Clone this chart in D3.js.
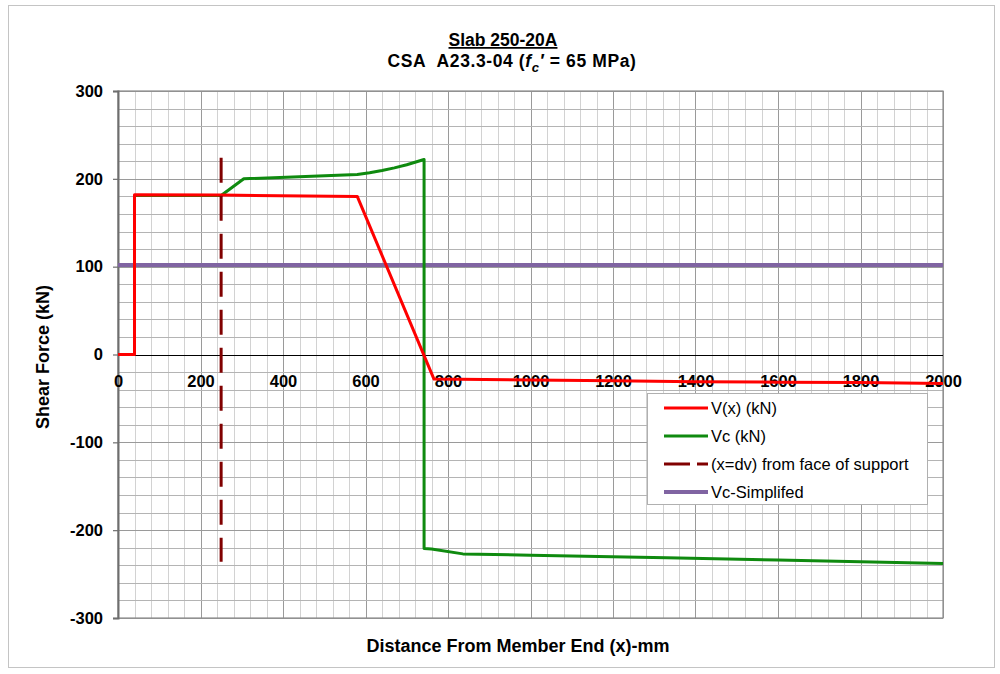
<!DOCTYPE html>
<html>
<head>
<meta charset="utf-8">
<script src="https://cdn.jsdelivr.net/npm/d3@7"></script>
<style>
  html, body { margin: 0; padding: 0; background: #fff; }
  svg { display: block; font-family: "Liberation Sans", Arial, sans-serif; }
</style>
</head>
<body>
<svg id="chart" width="1000" height="674"></svg>
<script>
// Shear force along the slab: applied V(x), concrete resistance Vc, simplified Vc, and dv marker
const vxX = [0, 40, 40, 250, 580, 766, 1000, 1200, 1400, 1600, 1800, 2000];
const vxY = [0, 0, 182, 181.5, 180, -28, -29, -30, -31, -31.5, -32, -33];

const vcX = [40, 250, 305, 580, 610, 640, 670, 700, 742, 742, 760, 836, 1000, 1330, 1600, 2000];
const vcY = [181, 181, 200, 205, 207, 209.5, 212.5, 216, 222, -221, -221.5, -227, -228.5, -231.5, -234, -238];

const vcSimpleX = [0, 2000];
const vcSimpleY = [102, 102];

const dvX = [250, 250];
const dvY = [224, -236];

const xTicks = [0, 200, 400, 600, 800, 1000, 1200, 1400, 1600, 1800, 2000];
const yTicks = [-300, -200, -100, 0, 100, 200, 300];

const legendLabels = ["V(x) (kN)", "Vc (kN)", "(x=dv) from face of support", "Vc-Simplifed"];

const svg = d3.select("#chart");

const x = d3.scaleLinear().domain([0, 2000]).range([118, 943]);
const y = d3.scaleLinear().domain([-300, 300]).range([618, 91]);

// outer frame
svg.append("rect")
  .attr("x", 8.5).attr("y", 5.5).attr("width", 986).attr("height", 662)
  .attr("fill", "#fff").attr("stroke", "#c4c4c4").attr("stroke-width", 1);

// grid: minor verticals every 40 mm, majors every 200 mm, horizontals every 20 kN
const g = svg.append("g");
d3.range(0, 2001, 40).forEach(v => {
  const major = v % 200 === 0;
  g.append("line")
    .attr("x1", Math.round(x(v)) + 0.5).attr("x2", Math.round(x(v)) + 0.5)
    .attr("y1", y(300)).attr("y2", y(-300))
    .attr("stroke", major ? "#9a9a9a" : "#d2d2d2").attr("stroke-width", 1);
});
d3.range(-300, 301, 20).forEach(v => {
  g.append("line")
    .attr("x1", x(0)).attr("x2", x(2000))
    .attr("y1", Math.round(y(v)) + 0.5).attr("y2", Math.round(y(v)) + 0.5)
    .attr("stroke", v % 100 === 0 ? "#9a9a9a" : "#b4b4b4").attr("stroke-width", 1);
});

// plot frame
svg.append("rect")
  .attr("x", x(0)).attr("y", y(300))
  .attr("width", x(2000) - x(0)).attr("height", y(-300) - y(300))
  .attr("fill", "none").attr("stroke", "#8c8c8c").attr("stroke-width", 1.2);

// zero line
svg.append("line")
  .attr("x1", x(0)).attr("x2", x(2000))
  .attr("y1", Math.round(y(0)) + 0.5).attr("y2", Math.round(y(0)) + 0.5)
  .attr("stroke", "#000").attr("stroke-width", 1);

const plainNum = d => String(d);

// y axis
const yAxis = svg.append("g")
  .attr("transform", `translate(${x(0)},0)`)
  .call(d3.axisLeft(y).tickValues(yTicks).tickSize(5).tickPadding(10).tickFormat(plainNum));
yAxis.select(".domain").attr("stroke", "#6e6e6e").attr("stroke-width", 2);
yAxis.selectAll(".tick line").attr("stroke", "#6e6e6e").attr("stroke-width", 1.2);
yAxis.selectAll("text")
  .attr("font-size", 16.5).attr("font-weight", "bold").attr("fill", "#000")
  .attr("font-family", "Liberation Sans, Arial, sans-serif");

// x axis labels sit just under the zero line
const xAxis = svg.append("g")
  .attr("transform", `translate(0,${y(0)})`)
  .call(d3.axisBottom(x).tickValues(xTicks).tickSize(0).tickPadding(21).tickFormat(plainNum));
xAxis.select(".domain").remove();
xAxis.selectAll("text")
  .attr("font-size", 16.5).attr("font-weight", "bold").attr("fill", "#000")
  .attr("font-family", "Liberation Sans, Arial, sans-serif");

const line = d3.line().x(d => x(d[0])).y(d => y(d[1]));
const zip = (a, b) => a.map((v, i) => [v, b[i]]);

const series = [
  { pts: zip(vcSimpleX, vcSimpleY), color: "#8064a2", width: 4, dash: null },
  { pts: zip(vxX, vxY), color: "#ff0000", width: 3, dash: null },
  { pts: zip(vcX, vcY), color: "#0f8a0f", width: 3, dash: null },
  { pts: zip(dvX, dvY), color: "#800000", width: 3, dash: "25,13" }
];

// draw order: purple, green, red, dashed
[series[0], series[2], series[1], series[3]].forEach(s => {
  svg.append("path")
    .attr("d", line(s.pts))
    .attr("fill", "none")
    .attr("stroke", s.color)
    .attr("stroke-width", s.width)
    .attr("stroke-linejoin", "round")
    .attr("stroke-dasharray", s.dash);
});

// legend
const lg = svg.append("g");
lg.append("rect")
  .attr("x", 647.5).attr("y", 393.5).attr("width", 280).attr("height", 111)
  .attr("fill", "#fff").attr("stroke", "#b0b0b0").attr("stroke-width", 1);
const legendStyles = [series[1], series[2], series[3], series[0]];
legendLabels.forEach((lab, i) => {
  const ly = 408 + i * 28;
  const s = legendStyles[i];
  lg.append("line")
    .attr("x1", 664).attr("x2", 708).attr("y1", ly).attr("y2", ly)
    .attr("stroke", s.color).attr("stroke-width", s.width === 4 ? 4 : 3)
    .attr("stroke-dasharray", s.dash ? "26,7" : null);
  lg.append("text")
    .attr("x", 711).attr("y", ly + 6)
    .attr("font-size", 16.5).attr("fill", "#000")
    .text(lab);
});

// titles
svg.append("text")
  .attr("x", 503).attr("y", 46).attr("text-anchor", "middle")
  .attr("font-size", 17.5).attr("font-weight", "bold")
  .attr("text-decoration", "underline")
  .text("Slab 250-20A");

const t2 = svg.append("text")
  .attr("x", 512).attr("y", 67).attr("text-anchor", "middle")
  .attr("font-size", 17.5).attr("font-weight", "bold")
  .attr("letter-spacing", 0.6);
t2.append("tspan").text("CSA\u00a0 A23.3-04 (");
t2.append("tspan").attr("font-style", "italic").text("f");
t2.append("tspan").attr("font-style", "italic").attr("font-size", 13).attr("dy", 5).text("c");
t2.append("tspan").attr("font-style", "italic").attr("dy", -5).text("\u2032");
t2.append("tspan").text("\u00a0= 65 MPa)");

svg.append("text")
  .attr("x", 518).attr("y", 652).attr("text-anchor", "middle")
  .attr("font-size", 18).attr("font-weight", "bold")
  .text("Distance From Member End (x)-mm");

svg.append("text")
  .attr("transform", "translate(49,357) rotate(-90)")
  .attr("text-anchor", "middle")
  .attr("font-size", 18).attr("font-weight", "bold")
  .text("Shear Force (kN)");
</script>
</body>
</html>
